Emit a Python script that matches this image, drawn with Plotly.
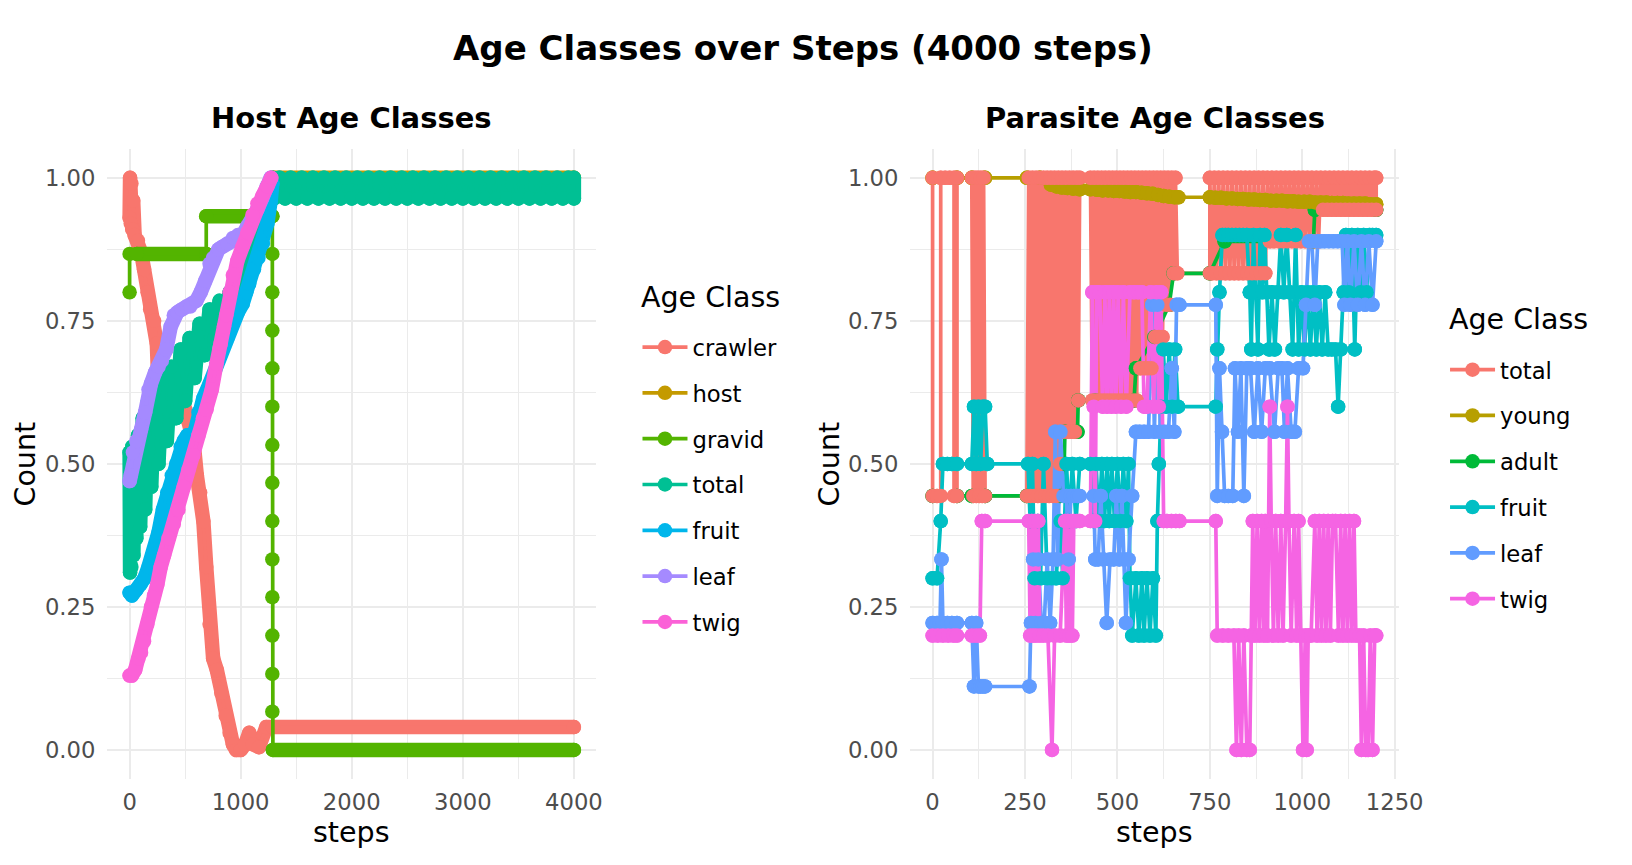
import plotly.graph_objects as go

# ---------------- Host panel data (step, proportion) ----------------
host_crawler = [(0, 0.93), (4, 1.0), (10, 0.92), (16, 0.99), (24, 0.91), (32, 0.96), (45, 0.90), (75, 0.89),
                (103, 0.87), (130, 0.84), (162, 0.80), (185, 0.77), (221, 0.75), (245, 0.71), (255, 0.66),
                (270, 0.60), (290, 0.58), (320, 0.60), (360, 0.62), (400, 0.635), (440, 0.64), (487, 0.61),
                (530, 0.575), (575, 0.54), (605, 0.48), (635, 0.45), (664, 0.40), (690, 0.32), (720, 0.22),
                (752, 0.16), (785, 0.14), (825, 0.10), (865, 0.06), (900, 0.03), (930, 0.01), (960, 0.0),
                (1000, 0.0), (1040, 0.01), (1077, 0.03), (1110, 0.01), (1165, 0.005), (1230, 0.04),
                (1290, 0.04), (4000, 0.04)]
host_host = [(1290, 1.0), (4000, 1.0)]
host_gravid = [(0, 0.8), (0, 0.867), (65, 0.867), (690, 0.867), (690, 0.933), (1285, 0.933), (1285, 0.867),
               (1285, 0.8), (1285, 0.733), (1285, 0.667), (1285, 0.6), (1285, 0.533), (1285, 0.467),
               (1285, 0.4), (1285, 0.333), (1285, 0.267), (1285, 0.2), (1285, 0.133), (1285, 0.067),
               (1290, 0.0), (4000, 0.0)]
host_gravid_runs = [(65, 0.867), (690, 0.867), None, (690, 0.933), (1285, 0.933), None, (1290, 0.0), (4000, 0.0)]
host_total = [(0, 0.52), (4, 0.31), (10, 0.51), (16, 0.32), (24, 0.53), (34, 0.34), (46, 0.53), (60, 0.37),
              (76, 0.55), (95, 0.39), (118, 0.58), (140, 0.42), (165, 0.61), (195, 0.46), (225, 0.63),
              (260, 0.50), (295, 0.65), (335, 0.54), (375, 0.67), (420, 0.58), (460, 0.70), (500, 0.61),
              (540, 0.72), (585, 0.65), (630, 0.745), (675, 0.69), (720, 0.77), (765, 0.72), (810, 0.785),
              (855, 0.75), (900, 0.80), (945, 0.77), (990, 0.82), (1035, 0.81), (1080, 0.85), (1125, 0.87),
              (1170, 0.90), (1215, 0.94), (1250, 0.97), (1285, 1.0),
              (1300, 0.964), (1350, 1.0), (1400, 0.964), (1450, 1.0), (1500, 0.964), (1550, 1.0),
              (1600, 0.964), (1650, 1.0), (1700, 0.964), (1750, 1.0), (1800, 0.964), (1850, 1.0),
              (1900, 0.964), (1950, 1.0), (2000, 0.964), (2050, 1.0), (2100, 0.964), (2150, 1.0),
              (2200, 0.964), (2250, 1.0), (2300, 0.964), (2350, 1.0), (2400, 0.964), (2450, 1.0),
              (2500, 0.964), (2550, 1.0), (2600, 0.964), (2650, 1.0), (2700, 0.964), (2750, 1.0),
              (2800, 0.964), (2850, 1.0), (2900, 0.964), (2950, 1.0), (3000, 0.964), (3050, 1.0),
              (3100, 0.964), (3150, 1.0), (3200, 0.964), (3250, 1.0), (3300, 0.964), (3350, 1.0),
              (3400, 0.964), (3450, 1.0), (3500, 0.964), (3550, 1.0), (3600, 0.964), (3650, 1.0),
              (3700, 0.964), (3750, 1.0), (3800, 0.964), (3850, 1.0), (3900, 0.964), (3950, 1.0),
              (4000, 0.964), (4000, 1.0)]
host_fruit = [(0, 0.275), (20, 0.27), (60, 0.28), (100, 0.29), (133, 0.30), (170, 0.32), (221, 0.35),
              (260, 0.38), (300, 0.42), (339, 0.45), (380, 0.48), (420, 0.50), (460, 0.53), (487, 0.54),
              (520, 0.55), (560, 0.53), (585, 0.555), (620, 0.59), (664, 0.615), (720, 0.64), (782, 0.675),
              (830, 0.70), (880, 0.72), (929, 0.748), (975, 0.765), (1018, 0.78), (1050, 0.80),
              (1077, 0.815), (1120, 0.84), (1160, 0.86), (1200, 0.885), (1240, 0.92), (1270, 0.96),
              (1285, 0.99)]
host_leaf = [(0, 0.47), (10, 0.48), (30, 0.52), (60, 0.54), (103, 0.56), (140, 0.59), (170, 0.63),
             (192, 0.64), (230, 0.66), (260, 0.67), (290, 0.68), (330, 0.70), (370, 0.74), (398, 0.76),
             (430, 0.765), (470, 0.77), (510, 0.775), (546, 0.775), (600, 0.785), (640, 0.80), (680, 0.82),
             (720, 0.85), (752, 0.86), (800, 0.875), (841, 0.88), (880, 0.885), (930, 0.895), (975, 0.90),
             (1018, 0.90), (1060, 0.915), (1106, 0.928), (1150, 0.945), (1195, 0.965), (1235, 0.985),
             (1270, 1.0)]
host_twig = [(0, 0.13), (20, 0.13), (50, 0.14), (80, 0.16), (103, 0.17), (130, 0.19), (160, 0.22),
             (192, 0.25), (220, 0.27), (250, 0.29), (280, 0.32), (310, 0.34), (350, 0.37), (398, 0.395),
             (440, 0.42), (487, 0.46), (530, 0.49), (575, 0.515), (620, 0.55), (660, 0.58), (693, 0.595),
             (740, 0.63), (782, 0.675), (820, 0.71), (850, 0.74), (870, 0.76), (900, 0.80), (929, 0.83),
             (970, 0.855), (1018, 0.88), (1060, 0.905), (1106, 0.935), (1150, 0.955), (1195, 0.968),
             (1240, 0.985), (1275, 1.0)]

# ---------------- Parasite panel data (step, proportion) ----------------
par_total = [(0, 1.0), (0, 0.444), (12, 0.444), (22, 0.444), (22, 1.0), (34, 1.0), (46, 1.0), (58, 1.0),
             (58, 0.444), (66, 0.444), (66, 1.0),
             (106, 1.0), (110, 0.444), (114, 1.0), (118, 0.444), (122, 1.0), (126, 0.444), (130, 1.0),
             (134, 0.444), (138, 1.0), (142, 0.444),
             (255, 0.444), (260, 1.0), (265, 0.444), (270, 1.0), (275, 0.444), (280, 1.0), (285, 0.444),
             (290, 1.0), (295, 0.444), (300, 1.0), (305, 0.444), (310, 1.0), (315, 0.444), (320, 1.0),
             (325, 0.444), (330, 1.0), (335, 0.444), (340, 1.0), (345, 0.5), (350, 1.0), (355, 0.556),
             (360, 1.0), (365, 0.556), (370, 1.0), (375, 0.556), (380, 1.0), (385, 0.556), (390, 1.0),
             (394, 0.611), (398, 1.0),
             (427, 1.0), (432, 0.611), (437, 1.0), (442, 0.611), (447, 1.0), (452, 0.611), (457, 1.0),
             (462, 0.611), (467, 1.0), (472, 0.611), (477, 1.0), (482, 0.611), (487, 1.0), (492, 0.611),
             (497, 1.0), (502, 0.611), (507, 1.0), (512, 0.611), (517, 1.0), (522, 0.611), (527, 1.0),
             (532, 0.611), (537, 1.0), (542, 0.611), (547, 1.0), (552, 0.611), (557, 1.0), (562, 0.667),
             (567, 1.0), (572, 0.667), (577, 1.0), (582, 0.667), (587, 1.0), (592, 0.667), (597, 1.0),
             (602, 0.722), (607, 1.0), (612, 0.722), (617, 1.0), (622, 0.722), (627, 1.0), (632, 0.778),
             (637, 1.0), (642, 0.778), (647, 1.0), (652, 0.833), (657, 1.0), (662, 0.833),
             (750, 0.833), (750, 1.0), (756, 0.833), (762, 1.0), (768, 0.833), (774, 1.0), (780, 0.833),
             (786, 1.0), (792, 0.833), (798, 1.0), (804, 0.833), (810, 1.0), (816, 0.833), (822, 1.0),
             (828, 0.833), (834, 1.0), (840, 0.833), (846, 1.0), (852, 0.833), (858, 1.0), (864, 0.833),
             (870, 1.0), (876, 0.833), (882, 1.0), (888, 0.833), (894, 1.0), (900, 0.833), (906, 1.0),
             (912, 0.889), (918, 1.0), (924, 0.889), (930, 1.0), (936, 0.889), (942, 1.0), (948, 0.889),
             (954, 1.0), (960, 0.889), (966, 1.0), (972, 0.889), (978, 1.0), (984, 0.889), (990, 1.0),
             (996, 0.889), (1002, 1.0), (1008, 0.889), (1014, 1.0), (1020, 0.889), (1026, 1.0),
             (1032, 0.889), (1038, 1.0), (1044, 0.889), (1050, 1.0), (1056, 0.944), (1062, 1.0),
             (1068, 0.944), (1074, 1.0), (1080, 0.944), (1086, 1.0), (1092, 0.944), (1098, 1.0),
             (1104, 0.944), (1110, 1.0), (1116, 0.944), (1122, 1.0), (1128, 0.944), (1134, 1.0),
             (1140, 0.944), (1146, 1.0), (1152, 0.944), (1158, 1.0), (1164, 0.944), (1170, 1.0),
             (1176, 0.944), (1182, 1.0), (1188, 0.944), (1194, 1.0), (1200, 0.944), (1200, 1.0)]
par_young = [(0, 1.0), (66, 1.0), (106, 1.0), (142, 1.0), (255, 1.0), (290, 1.0), (320, 0.988), (335, 0.985),
             (350, 0.983), (365, 0.982), (380, 0.981), (398, 0.98), (427, 0.98), (445, 0.979), (460, 0.978),
             (475, 0.978), (490, 0.977), (505, 0.977), (520, 0.976), (535, 0.975), (550, 0.975), (565, 0.974),
             (580, 0.973), (595, 0.972), (610, 0.97), (625, 0.968), (640, 0.967), (655, 0.966), (665, 0.966),
             (750, 0.966), (765, 0.965), (780, 0.965), (795, 0.964), (810, 0.964), (825, 0.963), (840, 0.963),
             (855, 0.962), (870, 0.962), (885, 0.961), (900, 0.961), (915, 0.96), (930, 0.96), (945, 0.96),
             (960, 0.959), (975, 0.959), (990, 0.958), (1005, 0.958), (1020, 0.958), (1035, 0.957),
             (1050, 0.957), (1065, 0.957), (1080, 0.956), (1095, 0.956), (1110, 0.956), (1125, 0.955),
             (1140, 0.955), (1155, 0.955), (1170, 0.955), (1185, 0.954), (1200, 0.954)]
par_adult = [(0, 0.444), (66, 0.444), (106, 0.444), (142, 0.444), (255, 0.444), (345, 0.444), (356, 0.5),
             (358, 0.556), (392, 0.556), (394, 0.611), (440, 0.611), (545, 0.611), (550, 0.667), (600, 0.722),
             (640, 0.778), (652, 0.833), (750, 0.833), (790, 0.889), (1030, 0.889), (1034, 0.944),
             (1200, 0.944)]
par_fruit = [(0, 0.3), (12, 0.3), (22, 0.4), (28, 0.5), (40, 0.5), (52, 0.5), (66, 0.5), (106, 0.5), (112, 0.6),
             (118, 0.5), (124, 0.6), (130, 0.5), (136, 0.6), (142, 0.6), (148, 0.5),
             (258, 0.5), (264, 0.4), (270, 0.5), (276, 0.3), (284, 0.4), (292, 0.3), (300, 0.5), (310, 0.3),
             (322, 0.3), (334, 0.3), (346, 0.4), (352, 0.3), (362, 0.5), (370, 0.4), (378, 0.5), (388, 0.4),
             (398, 0.5),
             (427, 0.5), (434, 0.4), (442, 0.5), (450, 0.4), (458, 0.5), (465, 0.4), (472, 0.5), (478, 0.4),
             (485, 0.5), (492, 0.4), (500, 0.5), (508, 0.4), (516, 0.5), (524, 0.4), (530, 0.5), (534, 0.3),
             (540, 0.2), (550, 0.3), (558, 0.2), (566, 0.3), (572, 0.2), (580, 0.3), (588, 0.2), (596, 0.3),
             (604, 0.2), (608, 0.4), (612, 0.5), (618, 0.6), (624, 0.7), (632, 0.6), (640, 0.7), (648, 0.6),
             (656, 0.7), (664, 0.6),
             (766, 0.6), (770, 0.7), (776, 0.8), (784, 0.9), (792, 0.9), (800, 0.9), (810, 0.9), (820, 0.9),
             (830, 0.9), (840, 0.9), (850, 0.9), (858, 0.8), (862, 0.7), (868, 0.9), (874, 0.8), (880, 0.7),
             (886, 0.9), (892, 0.8), (898, 0.9), (904, 0.8), (910, 0.7), (918, 0.8), (926, 0.7), (934, 0.8),
             (942, 0.9), (950, 0.8), (958, 0.9), (966, 0.8), (974, 0.7), (982, 0.9), (990, 0.7), (998, 0.8),
             (1006, 0.7), (1014, 0.8), (1022, 0.7), (1030, 0.8), (1038, 0.7), (1046, 0.8), (1054, 0.7),
             (1062, 0.8), (1070, 0.7), (1080, 0.7), (1090, 0.7), (1097, 0.6), (1104, 0.7), (1112, 0.8),
             (1118, 0.9), (1126, 0.8), (1134, 0.9), (1142, 0.7), (1150, 0.9), (1158, 0.8), (1166, 0.9),
             (1174, 0.8), (1182, 0.9), (1190, 0.9), (1200, 0.9)]
par_leaf = [(0, 0.222), (12, 0.222), (20, 0.222), (24, 0.333), (28, 0.222), (40, 0.222), (52, 0.222),
            (66, 0.222), (106, 0.222), (112, 0.111), (118, 0.222), (124, 0.111), (130, 0.111), (136, 0.111),
            (142, 0.111),
            (262, 0.111), (266, 0.222), (272, 0.333), (278, 0.222), (286, 0.333), (294, 0.222), (302, 0.222),
            (310, 0.333), (318, 0.222), (326, 0.333), (332, 0.556), (338, 0.333), (346, 0.556), (354, 0.444),
            (362, 0.444), (368, 0.333), (374, 0.444), (382, 0.444), (392, 0.444), (398, 0.444),
            (436, 0.444), (440, 0.333), (448, 0.333), (455, 0.444), (462, 0.333), (471, 0.222), (480, 0.333),
            (490, 0.333), (497, 0.444), (505, 0.333), (512, 0.444), (518, 0.333), (523, 0.222), (530, 0.333),
            (540, 0.444), (550, 0.556), (560, 0.556), (572, 0.556), (584, 0.556), (594, 0.778), (600, 0.556),
            (608, 0.778), (616, 0.556), (626, 0.556), (638, 0.556), (647, 0.667), (654, 0.556), (660, 0.778),
            (668, 0.778),
            (766, 0.778), (770, 0.444), (776, 0.667), (783, 0.556), (790, 0.444), (800, 0.444), (812, 0.444),
            (818, 0.667), (826, 0.556), (834, 0.667), (842, 0.444), (850, 0.667), (860, 0.667), (870, 0.556),
            (880, 0.667), (890, 0.556), (900, 0.667), (912, 0.667), (925, 0.556), (935, 0.667), (945, 0.667),
            (952, 0.556), (960, 0.667), (970, 0.556), (980, 0.556), (990, 0.667), (1002, 0.667),
            (1010, 0.778), (1018, 0.889), (1026, 0.889), (1034, 0.778), (1042, 0.889), (1050, 0.889),
            (1060, 0.889), (1072, 0.889), (1084, 0.889), (1096, 0.889), (1108, 0.889), (1114, 0.778),
            (1122, 0.889), (1130, 0.778), (1140, 0.889), (1150, 0.778), (1160, 0.889), (1170, 0.778),
            (1180, 0.889), (1190, 0.778), (1200, 0.889)]
par_twig = [(0, 0.2), (14, 0.2), (28, 0.2), (42, 0.2), (56, 0.2), (66, 0.2), (106, 0.2), (118, 0.2),
            (128, 0.2), (133, 0.4), (142, 0.4),
            (260, 0.4), (264, 0.2), (268, 0.4), (272, 0.2), (276, 0.4), (280, 0.2), (286, 0.4), (290, 0.2),
            (300, 0.2), (312, 0.2), (323, 0.0), (330, 0.2), (345, 0.2), (358, 0.4), (362, 0.2), (366, 0.4),
            (370, 0.2), (374, 0.4), (378, 0.2), (382, 0.4), (390, 0.4), (398, 0.4),
            (427, 0.4), (432, 0.8), (436, 0.6), (440, 0.4), (444, 0.8), (452, 0.8), (460, 0.6), (466, 0.8),
            (472, 0.6), (478, 0.8), (484, 0.6), (490, 0.8), (496, 0.6), (502, 0.8), (510, 0.6), (516, 0.8),
            (524, 0.6), (534, 0.8), (545, 0.8), (556, 0.8), (566, 0.8), (572, 0.6), (580, 0.6), (590, 0.8),
            (598, 0.6), (606, 0.8), (612, 0.6), (618, 0.8), (625, 0.4), (634, 0.4), (646, 0.4), (658, 0.4),
            (668, 0.4),
            (766, 0.4), (770, 0.2), (785, 0.2), (800, 0.2), (815, 0.2), (822, 0.0), (828, 0.2), (835, 0.0),
            (842, 0.2), (850, 0.0), (858, 0.0), (862, 0.2), (866, 0.4), (872, 0.2), (878, 0.4), (884, 0.2),
            (890, 0.4), (896, 0.2), (900, 0.4), (906, 0.2), (912, 0.6), (916, 0.4), (922, 0.2), (928, 0.4),
            (935, 0.2), (942, 0.4), (948, 0.2), (955, 0.4), (960, 0.6), (964, 0.4), (970, 0.2), (978, 0.4),
            (985, 0.2), (990, 0.4), (996, 0.2), (1002, 0.0), (1008, 0.2), (1012, 0.0), (1016, 0.2),
            (1024, 0.2), (1034, 0.4), (1040, 0.2), (1046, 0.4), (1052, 0.2), (1058, 0.4), (1064, 0.2),
            (1070, 0.4), (1076, 0.2), (1082, 0.4), (1090, 0.4), (1098, 0.2), (1104, 0.4), (1110, 0.2),
            (1116, 0.4), (1122, 0.2), (1128, 0.4), (1134, 0.2), (1140, 0.4), (1145, 0.2), (1155, 0.2),
            (1160, 0.0), (1166, 0.2), (1172, 0.0), (1178, 0.0), (1184, 0.2), (1190, 0.0), (1196, 0.2),
            (1200, 0.2)]

host_names = ["crawler", "host", "gravid", "total", "fruit", "leaf", "twig"]
par_names = ["total", "young", "adult", "fruit", "leaf", "twig"]
y_ticks = [0, 0.25, 0.5, 0.75, 1.0]
y_labels = ["0.00", "0.25", "0.50", "0.75", "1.00"]
host_x_ticks = [0, 1000, 2000, 3000, 4000]
par_x_ticks = [0, 250, 500, 750, 1000, 1250]

host_colors = ["#F8766D", "#C49A00", "#53B400", "#00C094", "#00B6EB", "#A58AFF", "#FB61D7"]
par_colors = ["#F8766D", "#B79F00", "#00BA38", "#00BFC4", "#619CFF", "#F564E3"]

W, H = 1632, 865
FONT = "DejaVu Sans"
GRID = "#EBEBEB"
LINE_W = 3.7
DOT = 14.5


def unzip(pairs):
    xs = [p[0] if p is not None else None for p in pairs]
    ys = [p[1] if p is not None else None for p in pairs]
    return xs, ys


fig = go.Figure()

# host panel: each series = thick band of dense points + thin line with dots
host_data = [host_crawler, host_host, host_gravid, host_total, host_fruit, host_leaf, host_twig]
host_runs = [host_crawler, host_host, host_gravid_runs, host_total, host_fruit, host_leaf, host_twig]
for name, pts, runs, col in zip(host_names, host_data, host_runs, host_colors):
    bx, by = unzip(runs)
    fig.add_trace(go.Scatter(x=bx, y=by, mode="lines", line=dict(color=col, width=DOT),
                             xaxis="x", yaxis="y", showlegend=False, legendgroup="h_" + name,
                             hoverinfo="skip", connectgaps=False))
    px, py = unzip(pts)
    fig.add_trace(go.Scatter(x=px, y=py, mode="lines+markers", name=name,
                             line=dict(color=col, width=LINE_W), marker=dict(color=col, size=DOT),
                             xaxis="x", yaxis="y", legend="legend", legendgroup="h_" + name))

# parasite panel: all lines first, then all points
par_data = [par_total, par_young, par_adult, par_fruit, par_leaf, par_twig]
for name, pts, col in zip(par_names, par_data, par_colors):
    px, py = unzip(pts)
    fig.add_trace(go.Scatter(x=px, y=py, mode="lines+markers", name=name,
                             line=dict(color=col, width=LINE_W), marker=dict(color=col, size=DOT),
                             xaxis="x2", yaxis="y2", legend="legend2", legendgroup="p_" + name))
for i in [2, 1, 0, 3, 4, 5]:
    px, py = unzip(par_data[i])
    fig.add_trace(go.Scatter(x=px, y=py, mode="markers", marker=dict(color=par_colors[i], size=DOT),
                             xaxis="x2", yaxis="y2", showlegend=False,
                             legendgroup="p_" + par_names[i], hoverinfo="skip"))

# layout geometry (pixels -> paper)
left_dom = [109 / W, 605 / W]
right_dom = [924 / W, 1420 / W]
y_dom = [1 - 778.6 / H, 1 - 149.2 / H]

axis_common = dict(showgrid=True, gridcolor=GRID, gridwidth=2.4, zeroline=False, showline=False,
                   ticks="", tickfont=dict(family=FONT, size=22.7, color="#4D4D4D"))

legend_common = dict(xanchor="left", yanchor="top", bgcolor="rgba(0,0,0,0)",
                     font=dict(family=FONT, size=22.7, color="black"), tracegroupgap=13.3, itemwidth=45)

fig.update_layout(
    width=W, height=H,
    margin=dict(l=0, r=0, t=0, b=0),
    paper_bgcolor="white", plot_bgcolor="white",
    font=dict(family=FONT, color="black"),
    xaxis=dict(domain=left_dom, range=[-200, 4200], tickvals=host_x_ticks, anchor="y", ticklabelstandoff=8,
               minor=dict(dtick=500, tick0=0, showgrid=True, gridcolor=GRID, gridwidth=1.2),
               **axis_common),
    yaxis=dict(domain=y_dom, range=[-0.05, 1.05], tickvals=y_ticks, ticktext=y_labels, anchor="x",
               ticklabelstandoff=11,
               minor=dict(dtick=0.125, tick0=0, showgrid=True, gridcolor=GRID, gridwidth=1.2),
               **axis_common),
    xaxis2=dict(domain=right_dom, range=[-60, 1262], tickvals=par_x_ticks, anchor="y2", ticklabelstandoff=8,
                minor=dict(dtick=125, tick0=0, showgrid=True, gridcolor=GRID, gridwidth=1.2),
                **axis_common),
    yaxis2=dict(domain=y_dom, range=[-0.05, 1.05], tickvals=y_ticks, ticktext=y_labels, anchor="x2",
                ticklabelstandoff=11,
                minor=dict(dtick=0.125, tick0=0, showgrid=True, gridcolor=GRID, gridwidth=1.2),
                **axis_common),
    legend=dict(x=647 / W, y=1 - 325.8 / H, **legend_common),
    legend2=dict(x=1466.6 / W, y=1 - 348.4 / H, **legend_common),
)

annotations = [
    dict(text="<b>Age Classes over Steps (4000 steps)</b>", x=815.4 / W, y=1 - 48 / H, font=dict(size=34)),
    dict(text="<b>Host Age Classes</b>", x=sum(left_dom) / 2, y=1 - 117.5 / H, font=dict(size=29)),
    dict(text="<b>Parasite Age Classes</b>", x=sum(right_dom) / 2, y=1 - 117.5 / H, font=dict(size=29)),
    dict(text="steps", x=sum(left_dom) / 2, y=1 - 832 / H, font=dict(size=28.5)),
    dict(text="steps", x=sum(right_dom) / 2, y=1 - 832 / H, font=dict(size=28.5)),
    dict(text="Count", x=26 / W, y=sum(y_dom) / 2, textangle=-90, font=dict(size=28.5)),
    dict(text="Count", x=842 / W, y=sum(y_dom) / 2, textangle=-90, font=dict(size=28.5)),
]
for a in annotations:
    a.update(xanchor="center")
# legend titles
annotations.append(dict(text="Age Class", x=649 / W, y=1 - 297.4 / H, xanchor="left", font=dict(size=28.5)))
annotations.append(dict(text="Age Class", x=1468.5 / W, y=1 - 319.3 / H, xanchor="left", font=dict(size=28.5)))
for a in annotations:
    a.update(xref="paper", yref="paper", yanchor="middle", showarrow=False)
    a["font"].update(family=FONT, color="black")
fig.update_layout(annotations=annotations)

page_fix = ("document.body.style.margin='0';"
            "document.querySelectorAll('.scatterlayer .js-line').forEach(function(p){"
            "p.style.strokeLinejoin='round';p.style.strokeLinecap='round';});")
fig.write_html("out.html", post_script=page_fix, config={"displayModeBar": False})
